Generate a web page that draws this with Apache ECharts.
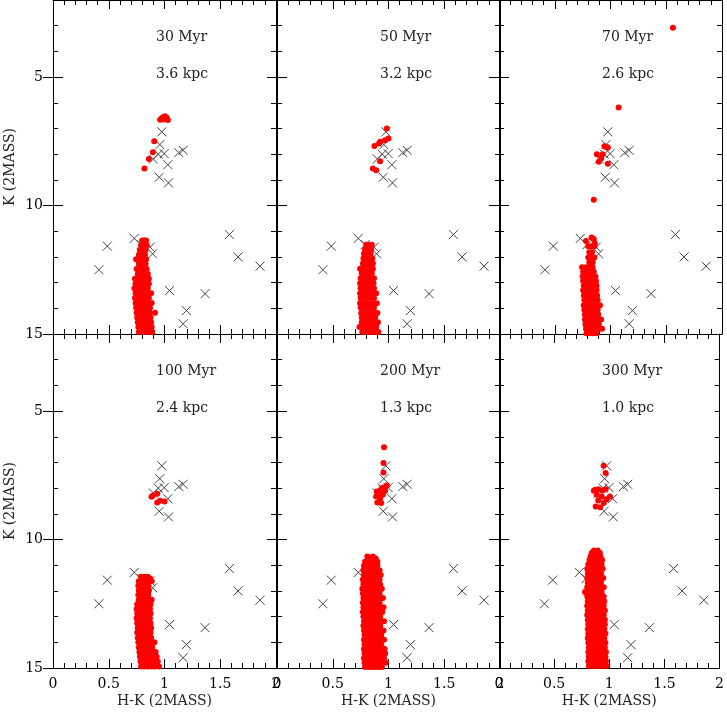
<!DOCTYPE html>
<html>
<head>
<meta charset="utf-8">
<script src="https://cdn.jsdelivr.net/npm/echarts@6/dist/echarts.min.js"></script>
<style>
  html, body { margin: 0; padding: 0; background: #fff; }
  #chart { width: 727px; height: 713px; }
</style>
</head>
<body>
<div id="chart"></div>
<script>
  const ages = ['30 Myr', '50 Myr', '70 Myr', '100 Myr', '200 Myr', '300 Myr'];
  const dists = ['3.6 kpc', '3.2 kpc', '2.6 kpc', '2.4 kpc', '1.3 kpc', '1.0 kpc'];
  const xTicks = [0, 0.5, 1, 1.5, 2];
  const yTicks = [5, 10, 15];

  // observed stars (crosses), same in every panel: [H-K, K]
  const observed = [
    [0.976, 7.13], [0.958, 7.63], [0.90, 8.19], [0.944, 8.0], [0.997, 7.98],
    [1.03, 8.41], [1.128, 7.94], [1.167, 7.85], [0.953, 8.9], [1.036, 9.12],
    [0.729, 11.28], [0.487, 11.58], [0.412, 12.5], [0.872, 11.62], [0.893, 11.88],
    [0.79, 11.52], [1.045, 13.31], [1.364, 13.43], [1.197, 14.09], [1.167, 14.6],
    [1.582, 11.13], [1.66, 12.0], [1.857, 12.36]
  ];

  // isochrone points above the main sequence: [H-K, K]
  const upper30 = [[0.96, 6.66], [0.975, 6.6], [0.99, 6.55], [1.005, 6.52], [1.02, 6.58], [1.03, 6.67], [0.995, 6.65],
    [0.908, 7.5], [0.895, 7.93], [0.86, 8.19], [0.82, 8.56]];
  const upper50 = [[0.985, 7.0], [1.0, 7.39], [0.97, 7.46], [0.925, 7.52], [0.915, 7.59], [0.874, 7.68],
    [0.925, 8.28], [0.86, 8.56], [0.89, 8.63]];
  const upper70 = [[1.56, 3.08], [1.073, 6.18], [0.85, 9.77], [0.946, 7.69], [0.976, 7.74], [0.96, 7.72],
    [0.877, 8.0], [0.93, 8.0], [0.916, 8.17], [0.895, 8.3], [0.976, 8.37]];
  const upper100 = [[0.895, 8.3], [0.935, 8.22], [0.935, 8.56], [0.96, 8.49], [1.0, 8.52], [0.884, 8.33]];
  const upper200 = [[0.96, 6.41], [0.955, 7.02], [0.955, 7.39], [0.985, 7.9], [0.955, 7.97], [0.94, 8.0],
    [0.925, 8.09], [0.895, 8.13], [0.91, 8.22], [0.89, 8.32], [0.925, 8.39], [0.90, 8.56], [0.935, 8.58],
    [0.97, 8.1], [0.95, 8.25]];
  const upper300 = [[0.949, 7.13], [0.967, 7.41], [0.872, 8.06], [0.90, 8.04], [0.937, 8.09], [0.967, 8.04],
    [0.886, 8.26], [0.93, 8.32], [0.976, 8.43], [1.006, 8.32], [0.90, 8.48], [0.877, 8.71], [0.917, 8.74],
    [0.95, 8.58], [0.86, 8.1]];

  // main sequence, one row per K: [K, H-K, H-K, ...]
  const ms30 = [
    [11.36, 0.80, 0.82, 0.835], [11.55, 0.79, 0.815, 0.84], [11.74, 0.78, 0.805, 0.83],
    [11.92, 0.77, 0.80, 0.825], [12.09, 0.745, 0.78, 0.81, 0.835], [12.28, 0.77, 0.80, 0.83],
    [12.47, 0.75, 0.78, 0.81, 0.84], [12.66, 0.76, 0.79, 0.82, 0.85], [12.85, 0.735, 0.765, 0.80, 0.83, 0.86],
    [13.04, 0.74, 0.77, 0.80, 0.83, 0.86], [13.22, 0.73, 0.76, 0.79, 0.82, 0.85],
    [13.41, 0.74, 0.77, 0.80, 0.83, 0.86, 0.88], [13.6, 0.735, 0.765, 0.80, 0.83, 0.86],
    [13.79, 0.74, 0.77, 0.80, 0.83, 0.86, 0.885], [13.98, 0.745, 0.775, 0.81, 0.84, 0.87],
    [14.17, 0.75, 0.78, 0.81, 0.84, 0.87, 0.915], [14.36, 0.755, 0.785, 0.815, 0.845, 0.875],
    [14.54, 0.76, 0.79, 0.82, 0.85, 0.88], [14.73, 0.765, 0.795, 0.825, 0.855, 0.885],
    [14.92, 0.77, 0.80, 0.83, 0.86, 0.89]
  ];
  const ms50 = [
    [11.53, 0.80, 0.83, 0.85], [11.71, 0.79, 0.82, 0.845], [11.88, 0.78, 0.81, 0.84],
    [12.06, 0.775, 0.80, 0.83, 0.855], [12.26, 0.77, 0.80, 0.83, 0.86],
    [12.46, 0.745, 0.775, 0.805, 0.835, 0.86], [12.64, 0.76, 0.79, 0.82, 0.85],
    [12.83, 0.75, 0.78, 0.81, 0.84, 0.87], [13.02, 0.745, 0.775, 0.805, 0.835, 0.865],
    [13.22, 0.75, 0.78, 0.81, 0.84, 0.87], [13.41, 0.745, 0.775, 0.805, 0.835, 0.865, 0.89],
    [13.6, 0.75, 0.78, 0.81, 0.84, 0.87], [13.8, 0.745, 0.775, 0.805, 0.835, 0.865, 0.895],
    [13.98, 0.75, 0.78, 0.81, 0.84, 0.87], [14.18, 0.755, 0.785, 0.815, 0.845, 0.875, 0.90],
    [14.36, 0.76, 0.79, 0.82, 0.85, 0.88], [14.54, 0.76, 0.79, 0.82, 0.85, 0.88, 0.905],
    [14.73, 0.74, 0.77, 0.80, 0.83, 0.86, 0.89], [14.92, 0.765, 0.795, 0.825, 0.855, 0.885, 0.91]
  ];
  const ms70 = [
    [11.24, 0.83], [11.3, 0.85], [11.38, 0.78], [11.48, 0.86], [11.58, 0.80, 0.83, 0.855],
    [11.82, 0.81, 0.835], [12.02, 0.80, 0.83, 0.855], [12.21, 0.81, 0.84],
    [12.4, 0.745, 0.78, 0.81, 0.84], [12.58, 0.755, 0.79, 0.82, 0.85],
    [12.76, 0.75, 0.78, 0.81, 0.84, 0.865], [12.94, 0.755, 0.785, 0.815, 0.845, 0.87],
    [13.12, 0.76, 0.79, 0.82, 0.85, 0.875], [13.3, 0.755, 0.785, 0.815, 0.845, 0.875],
    [13.5, 0.76, 0.79, 0.82, 0.85, 0.88], [13.68, 0.765, 0.795, 0.825, 0.855, 0.885],
    [13.88, 0.76, 0.79, 0.82, 0.85, 0.88, 0.905], [14.06, 0.765, 0.795, 0.825, 0.855, 0.885],
    [14.24, 0.77, 0.80, 0.83, 0.86, 0.89], [14.44, 0.77, 0.80, 0.83, 0.86, 0.89, 0.915],
    [14.62, 0.775, 0.805, 0.835, 0.865, 0.895], [14.8, 0.78, 0.81, 0.84, 0.87, 0.90, 0.925],
    [14.97, 0.785, 0.815, 0.845, 0.875]
  ];
  const ms100 = [
    [11.45, 0.79, 0.82, 0.85], [11.52, 0.87], [11.62, 0.77, 0.80, 0.83, 0.86, 0.885],
    [11.8, 0.765, 0.795, 0.825, 0.855], [11.98, 0.77, 0.80, 0.83, 0.86],
    [12.16, 0.765, 0.795, 0.825, 0.855], [12.34, 0.77, 0.80, 0.83, 0.86, 0.885],
    [12.52, 0.755, 0.785, 0.815, 0.845, 0.875], [12.7, 0.75, 0.78, 0.81, 0.84, 0.87],
    [12.88, 0.755, 0.785, 0.815, 0.845, 0.875], [13.06, 0.75, 0.78, 0.81, 0.84, 0.87],
    [13.26, 0.755, 0.785, 0.815, 0.845, 0.875], [13.44, 0.76, 0.79, 0.82, 0.85, 0.88],
    [13.62, 0.755, 0.785, 0.815, 0.845, 0.875], [13.82, 0.76, 0.79, 0.82, 0.85, 0.88],
    [14.0, 0.765, 0.795, 0.825, 0.855, 0.885, 0.91], [14.2, 0.77, 0.80, 0.83, 0.86, 0.89],
    [14.38, 0.775, 0.805, 0.835, 0.865, 0.895, 0.92], [14.56, 0.78, 0.81, 0.84, 0.87, 0.90, 0.93],
    [14.75, 0.785, 0.815, 0.845, 0.875, 0.905, 0.94], [14.94, 0.79, 0.82, 0.85, 0.88, 0.91, 0.95]
  ];
  const ms200 = [
    [10.66, 0.81, 0.86], [10.74, 0.835, 0.885], [10.86, 0.79, 0.82, 0.85, 0.88, 0.90],
    [11.02, 0.78, 0.81, 0.84, 0.87, 0.90], [11.2, 0.775, 0.805, 0.835, 0.865, 0.895, 0.92],
    [11.38, 0.78, 0.81, 0.84, 0.87, 0.90, 0.93], [11.56, 0.77, 0.80, 0.83, 0.86, 0.89, 0.92],
    [11.74, 0.775, 0.805, 0.835, 0.865, 0.895, 0.925], [11.92, 0.765, 0.795, 0.825, 0.855, 0.885, 0.915, 0.94],
    [12.1, 0.77, 0.80, 0.83, 0.86, 0.89, 0.92], [12.28, 0.775, 0.805, 0.835, 0.865, 0.895, 0.925, 0.95],
    [12.46, 0.77, 0.80, 0.83, 0.86, 0.89, 0.92], [12.64, 0.775, 0.805, 0.835, 0.865, 0.895, 0.925, 0.955],
    [12.82, 0.77, 0.80, 0.83, 0.86, 0.89, 0.92, 0.945], [13.0, 0.775, 0.805, 0.835, 0.865, 0.895, 0.925],
    [13.18, 0.78, 0.81, 0.84, 0.87, 0.90, 0.93, 0.96], [13.36, 0.775, 0.805, 0.835, 0.865, 0.895, 0.925],
    [13.54, 0.78, 0.81, 0.84, 0.87, 0.90, 0.93, 0.955], [13.72, 0.785, 0.815, 0.845, 0.875, 0.905, 0.935],
    [13.9, 0.78, 0.81, 0.84, 0.87, 0.90, 0.93, 0.96], [14.08, 0.785, 0.815, 0.845, 0.875, 0.905, 0.935],
    [14.26, 0.78, 0.81, 0.84, 0.87, 0.90, 0.93, 0.965], [14.44, 0.785, 0.815, 0.845, 0.875, 0.905, 0.935, 0.97],
    [14.62, 0.78, 0.81, 0.84, 0.87, 0.90, 0.93, 0.96], [14.8, 0.785, 0.815, 0.845, 0.875, 0.905, 0.935, 0.975],
    [14.96, 0.79, 0.82, 0.85, 0.88, 0.91, 0.94]
  ];
  const ms300 = [
    [10.43, 0.86, 0.895], [10.52, 0.84, 0.875, 0.915], [10.66, 0.83, 0.86, 0.89, 0.92],
    [10.8, 0.82, 0.85, 0.88, 0.91, 0.935], [10.96, 0.81, 0.84, 0.87, 0.90, 0.93],
    [11.14, 0.80, 0.83, 0.86, 0.89, 0.92, 0.94], [11.32, 0.805, 0.835, 0.865, 0.895, 0.925],
    [11.5, 0.80, 0.83, 0.86, 0.89, 0.92, 0.945], [11.68, 0.805, 0.835, 0.865, 0.895, 0.925],
    [11.86, 0.80, 0.83, 0.86, 0.89, 0.92, 0.95], [12.04, 0.78, 0.81, 0.84, 0.87, 0.90, 0.93],
    [12.22, 0.80, 0.83, 0.86, 0.89, 0.92, 0.95], [12.4, 0.805, 0.835, 0.865, 0.895, 0.925, 0.955],
    [12.58, 0.80, 0.83, 0.86, 0.89, 0.92, 0.95], [12.76, 0.805, 0.835, 0.865, 0.895, 0.925, 0.96],
    [12.94, 0.80, 0.83, 0.86, 0.89, 0.92, 0.95], [13.12, 0.805, 0.835, 0.865, 0.895, 0.925, 0.96],
    [13.3, 0.81, 0.84, 0.87, 0.90, 0.93, 0.96], [13.48, 0.805, 0.835, 0.865, 0.895, 0.925, 0.955],
    [13.66, 0.81, 0.84, 0.87, 0.90, 0.93, 0.965], [13.84, 0.805, 0.835, 0.865, 0.895, 0.925, 0.955],
    [14.02, 0.81, 0.84, 0.87, 0.90, 0.93, 0.965], [14.2, 0.815, 0.845, 0.875, 0.905, 0.935, 0.96],
    [14.38, 0.81, 0.84, 0.87, 0.90, 0.93, 0.97], [14.56, 0.815, 0.845, 0.875, 0.905, 0.935, 0.965],
    [14.74, 0.81, 0.84, 0.87, 0.90, 0.93, 0.97], [14.92, 0.815, 0.845, 0.875, 0.905, 0.935, 0.975]
  ];

  const uppers = [upper30, upper50, upper70, upper100, upper200, upper300];
  const mss = [ms30, ms50, ms70, ms100, ms200, ms300];

  function rowsToPoints(rows) {
    const pts = [];
    rows.forEach(r => {
      for (let j = 1; j < r.length; j++) pts.push([r[j], r[0]]);
    });
    return pts;
  }

  const FONT = 'DejaVu Serif';
  const lefts = [53, 277, 499];
  const tops = [0, 334];
  const W = 223, H = 334;
  const black = { color: '#000', width: 1 };

  const option = {
    animation: false,
    backgroundColor: '#fff',
    title: [],
    grid: [],
    xAxis: [],
    yAxis: [],
    series: []
  };

  for (let i = 0; i < 6; i++) {
    const row = Math.floor(i / 3), col = i % 3;
    const bottomRow = row === 1;
    option.grid.push({ left: lefts[col], top: tops[row], width: W, height: H });

    option.title.push({
      text: ages[i], left: lefts[col] + 98, top: tops[row] + 25,
      textStyle: { fontFamily: FONT, fontSize: 14, fontWeight: 'normal', color: '#222' }
    });
    option.title.push({
      text: dists[i], left: lefts[col] + 98, top: tops[row] + 62,
      textStyle: { fontFamily: FONT, fontSize: 14, fontWeight: 'normal', color: '#222' }
    });

    ['bottom', 'top'].forEach(pos => {
      const labels = pos === 'bottom' && bottomRow;
      option.xAxis.push({
        gridIndex: i, type: 'value', min: 0, max: 2, interval: 0.5, position: pos,
        axisLine: { show: true, onZero: false, lineStyle: black },
        axisTick: { show: true, inside: true, length: 9, lineStyle: black },
        minorTick: { show: true, splitNumber: 5, length: 5, lineStyle: black },
        splitLine: { show: false },
        axisLabel: {
          show: labels, margin: 9, fontFamily: FONT, fontSize: 14, color: '#000',
          customValues: xTicks, formatter: v => String(v)
        },
        name: labels ? 'H-K (2MASS)' : '',
        nameLocation: 'middle', nameGap: 26,
        nameTextStyle: { fontFamily: FONT, fontSize: 14, color: '#222' }
      });
    });

    ['left', 'right'].forEach(pos => {
      const labels = pos === 'left' && col === 0;
      // minor ticks every 1 mag
      option.yAxis.push({
        gridIndex: i, type: 'value', min: 2, max: 15, interval: 1, inverse: true, position: pos,
        axisLine: { show: true, onZero: false, lineStyle: black },
        axisTick: { show: true, inside: true, length: 5, lineStyle: black },
        splitLine: { show: false },
        axisLabel: { show: false }
      });
      // major ticks at 5, 10, 15
      option.yAxis.push({
        gridIndex: i, type: 'value', min: 2, max: 15, inverse: true, position: pos,
        axisLine: { show: false },
        axisTick: { show: true, inside: true, length: 10, lineStyle: black, customValues: yTicks },
        splitLine: { show: false },
        axisLabel: {
          show: labels, margin: 10, fontFamily: FONT, fontSize: 14, color: '#000',
          customValues: yTicks
        },
        name: labels ? 'K (2MASS)' : '',
        nameLocation: 'middle', nameGap: 36,
        nameTextStyle: { fontFamily: FONT, fontSize: 14, color: '#222' }
      });
    });

    option.series.push({
      type: 'scatter', xAxisIndex: i * 2, yAxisIndex: i * 4,
      data: observed, symbol: 'path://M0,0L10,10M10,0L0,10', symbolSize: 9,
      itemStyle: { color: 'rgba(0,0,0,0)', borderColor: '#444', borderWidth: 1, opacity: 1 },
      z: 2, silent: true
    });
    option.series.push({
      type: 'scatter', xAxisIndex: i * 2, yAxisIndex: i * 4,
      data: rowsToPoints(mss[i]).concat(uppers[i]),
      symbol: 'circle', symbolSize: 6,
      itemStyle: { color: '#ff0000', opacity: 1 },
      z: 3, silent: true
    });
  }

  const myChart = echarts.init(document.getElementById('chart'));
  myChart.setOption(option);
</script>
</body>
</html>
